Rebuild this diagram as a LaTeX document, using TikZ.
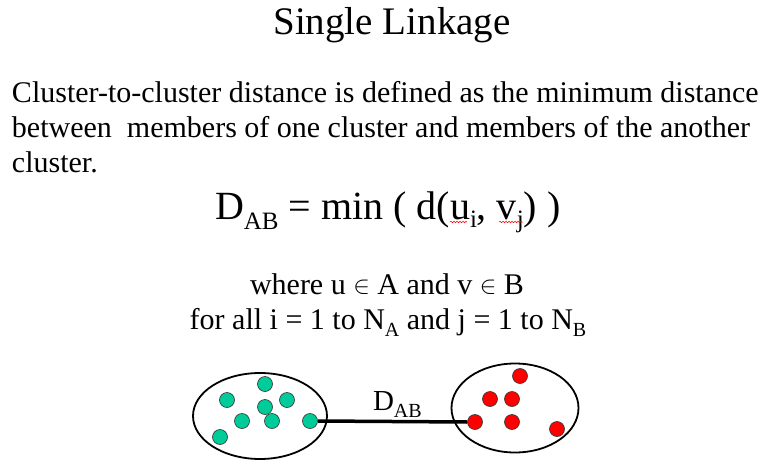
\documentclass[tikz,border=0pt]{standalone}
\usepackage{fontspec}
\setmainfont{Liberation Serif}
\usetikzlibrary{shapes.geometric,decorations.pathmorphing}
\definecolor{tealdot}{HTML}{00CC99}
\definecolor{reddot}{HTML}{FF0000}
\newcommand{\fs}[1]{\fontsize{#1}{#1}\selectfont}
\newcommand{\sub}[2]{\raisebox{-#1pt}{#2}}
\begin{document}
\begin{tikzpicture}[x=1pt,y=-1pt,
  txt/.style={inner sep=0pt,outer sep=0pt,anchor=base west},
  clus/.style={draw=black,line width=1.8pt,ellipse,inner sep=0pt},
  gdot/.style={circle,draw=black!80,line width=0.6pt,fill=tealdot,minimum size=15pt,inner sep=0pt},
  rdot/.style={circle,draw=black!80,line width=0.6pt,fill=reddot,minimum size=15pt,inner sep=0pt},
  link/.style={line width=3.5pt,draw=black},
  squig/.style={draw=red,line width=0.5pt,decorate,decoration={snake,amplitude=0.8pt,segment length=3pt}}]
\useasboundingbox (0,0) rectangle (764,466);
% title
\node[txt,anchor=base] (title) at (392,34) {\fs{39}Single Linkage};
% paragraph
\node[txt] (p1) at (12,102) {\fs{30}Cluster-to-cluster distance is defined as the minimum distance};
\node[txt] (p2) at (12,137) {\fs{30}between\ \ members of one cluster and members of the another};
\node[txt] (p3) at (12,172) {\fs{30}cluster.};
% formula
\node[txt] (f) at (215,219) {\fs{40}D\sub{10}{\fs{25}AB} = min ( d(u\sub{8}{\fs{25}i}, v\sub{8}{\fs{25}j}) )};
\node[txt,anchor=base] (w1) at (387,294) {\fs{30}where u \raisebox{0.5pt}{\fs{34}$\in$} A and v \raisebox{0.5pt}{\fs{34}$\in$} B};
\node[txt,anchor=base] (w2) at (388,329) {\fs{30}for all i = 1 to N\sub{7}{\fs{20}A} and j = 1 to N\sub{7}{\fs{20}B}};
% clusters
\node[clus,minimum width=134pt,minimum height=86pt] (A) at (260,416) {};
\node[clus,minimum width=127pt,minimum height=89pt] (B) at (515,408) {};
% green dots
\node[gdot] (g1) at (265,384) {};
\node[gdot] (g2) at (227,400) {};
\node[gdot] (g3) at (287,400) {};
\node[gdot] (g4) at (265,407) {};
\node[gdot] (g5) at (242,421) {};
\node[gdot] (g6) at (272,421) {};
\node[gdot] (g7) at (310,421) {};
\node[gdot] (g8) at (220,437) {};
% red dots
\node[rdot] (r1) at (520,376) {};
\node[rdot] (r2) at (490,399) {};
\node[rdot] (r3) at (512,399) {};
\node[rdot] (r4) at (475,422) {};
\node[rdot] (r5) at (512,422) {};
\node[rdot] (r6) at (557,429) {};
% link
\draw[link] (g7.east) -- (r4.west);
\node[txt] (dab) at (373,410) {\fs{29}D\sub{7}{\fs{20}AB}};
% spell-check squiggles
\coordinate (s1a) at (450,222); \coordinate (s1b) at (467,222);
\coordinate (s2a) at (499,222); \coordinate (s2b) at (523,222);
\draw[squig] (s1a) -- (s1b);
\draw[squig] (s2a) -- (s2b);
\end{tikzpicture}
\end{document}
